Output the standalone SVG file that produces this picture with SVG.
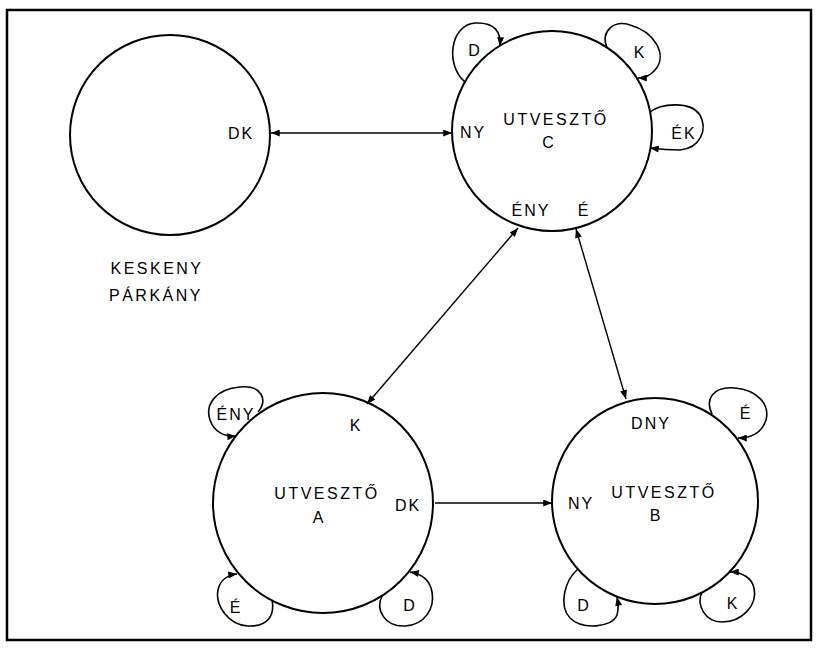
<svg xmlns="http://www.w3.org/2000/svg" width="818" height="650" viewBox="0 0 818 650">
<defs>
<marker id="ah" viewBox="0 0 10 8" refX="10" refY="4" markerWidth="10" markerHeight="7" markerUnits="userSpaceOnUse" orient="auto-start-reverse">
<path d="M0,0 L10,4 L0,8 z" fill="#000"/>
</marker>
<style>
.node{fill:none;stroke:#000;stroke-width:2}
.loop{fill:none;stroke:#000;stroke-width:1.6;marker-end:url(#ah)}
.edge{fill:none;stroke:#000;stroke-width:1.4}
text{font-family:"Liberation Sans",Arial,sans-serif;font-size:16px;letter-spacing:2px;text-anchor:middle;fill:#000}
.big{letter-spacing:2.5px}
</style>
</defs>
<rect x="0" y="0" width="818" height="650" fill="#fff"/>
<rect x="7" y="10" width="804" height="630" fill="none" stroke="#000" stroke-width="2.5"/>

<g id="keskeny-parkany">
<circle class="node" cx="170" cy="135" r="100"/>
<text x="241" y="139">DK</text>
<text class="big" x="157" y="274">KESKENY</text>
<text class="big" x="156" y="301">PÁRKÁNY</text>
</g>

<g id="utveszto-c">
<circle class="node" cx="552" cy="131" r="100"/>
<text class="big" x="556" y="125">UTVESZTŐ</text>
<text x="549" y="148">C</text>
<text x="473" y="138">NY</text>
<text x="531" y="216">ÉNY</text>
<text x="584" y="216">É</text>
<path class="loop" d="M465,82 C445,65 450,25 475,23 C495,22 501,32 500,46"/>
<text x="475" y="56">D</text>
<path class="loop" d="M607,48 C600,30 615,20 630,25 C655,32 668,55 655,70 C650,76 645,78 638,78"/>
<text x="640" y="58">K</text>
<path class="loop" d="M650,112 C660,104 690,100 700,115 C708,130 700,148 680,150 C668,150 658,149 650,148"/>
<text x="684" y="139">ÉK</text>
</g>

<g id="utveszto-a">
<circle class="node" cx="323" cy="503" r="110"/>
<text class="big" x="327" y="499">UTVESZTŐ</text>
<text x="319" y="523">A</text>
<text x="356" y="431">K</text>
<text x="408" y="511">DK</text>
<path class="loop" d="M258,412 C268,400 262,385 240,387 C215,389 205,405 210,420 C214,432 225,437 236,436"/>
<text x="236" y="420">ÉNY</text>
<path class="loop" d="M272,600 C275,615 268,627 248,626 C228,625 215,605 218,590 C220,580 228,575 237,574"/>
<text x="236" y="613">É</text>
<path class="loop" d="M382,596 C375,610 385,627 405,626 C425,625 435,608 432,592 C430,580 422,574 410,572"/>
<text x="410" y="611">D</text>
</g>

<g id="utveszto-b">
<circle class="node" cx="655" cy="501" r="103"/>
<text class="big" x="664" y="498">UTVESZTŐ</text>
<text x="656" y="521">B</text>
<text x="651" y="429">DNY</text>
<text x="581" y="509">NY</text>
<path class="loop" d="M712,414 C705,400 712,386 735,388 C758,390 770,405 766,420 C762,432 752,438 738,438"/>
<text x="746" y="419">É</text>
<path class="loop" d="M578,569 C565,580 558,605 570,618 C582,630 612,628 617,615 C619,608 618,602 617,597"/>
<text x="584" y="611">D</text>
<path class="loop" d="M702,592 C696,605 705,622 722,622 C742,622 758,605 754,588 C752,578 742,572 730,572"/>
<text x="733" y="609">K</text>
</g>

<g id="connectors">
<line class="edge" x1="271" y1="133" x2="452" y2="133" marker-start="url(#ah)" marker-end="url(#ah)"/>
<line class="edge" x1="518" y1="228" x2="367" y2="404" marker-start="url(#ah)" marker-end="url(#ah)"/>
<line class="edge" x1="576" y1="229" x2="626" y2="399" marker-start="url(#ah)" marker-end="url(#ah)"/>
<line class="edge" x1="435" y1="503" x2="552" y2="503" marker-end="url(#ah)"/>
</g>
</svg>
